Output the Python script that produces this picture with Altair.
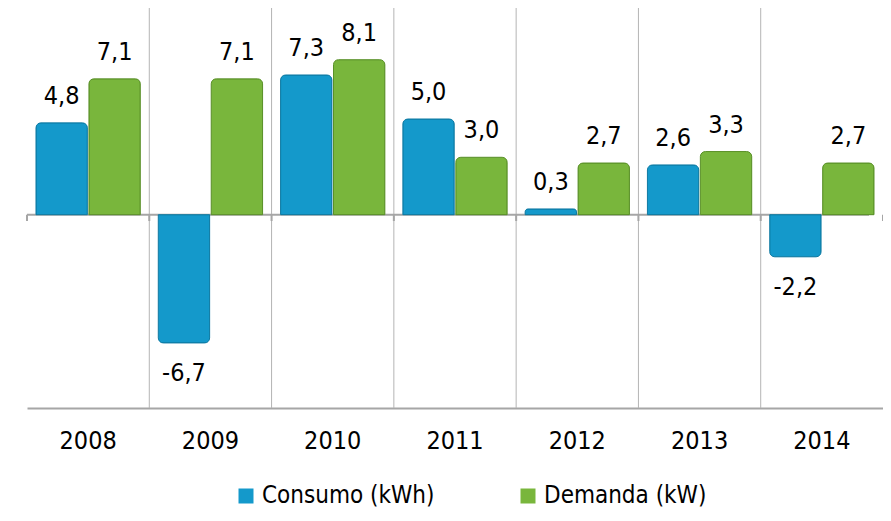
import altair as alt
import pandas as pd

years = ["2008", "2009", "2010", "2011", "2012", "2013", "2014"]
consumo = [4.8, -6.7, 7.3, 5.0, 0.3, 2.6, -2.2]
demanda = [7.1, 7.1, 8.1, 3.0, 2.7, 3.3, 2.7]
series = ["Consumo (kWh)", "Demanda (kW)"]
colors = ["#1499cb", "#79b63c"]
strokes = ["#0d7aa3", "#5a9128"]

Y_MIN, Y_MAX = -10.1, 10.8
FONT = "DejaVu Sans Condensed, Noto Sans, sans-serif"
FS = 25
GRAY = "#a6a6a6"

rows = []
for i, yr in enumerate(years):
    rows.append({"year": yr, "serie": series[0], "value": consumo[i]})
    rows.append({"year": yr, "serie": series[1], "value": demanda[i]})
df = pd.DataFrame(rows)
df["label"] = df["value"].map(lambda v: f"{v:.1f}".replace(".", ","))

grid_df = pd.DataFrame({"year": years[1:]})
tick_df = pd.DataFrame({"year": years})
end_df = pd.DataFrame({"year": [years[-1]]})

X_SCALE = alt.Scale(domain=years, paddingInner=0, paddingOuter=0)
Y_SCALE = alt.Scale(domain=[Y_MIN, Y_MAX], nice=False, zero=False)
XO_SCALE = alt.Scale(domain=series, paddingOuter=0.17, paddingInner=0.03)

x_axis = alt.Axis(
    orient="bottom", title=None, labelAngle=0, ticks=False, grid=False,
    domainColor=GRAY, domainWidth=2, labelFont=FONT, labelFontSize=FS,
    labelColor="#000000", labelPadding=20,
)

legend = alt.Legend(
    orient="none", direction="horizontal", title=None, legendX=207, legendY=476,
    symbolType="square", symbolSize=225, symbolStrokeWidth=0,
    labelFont=FONT, labelFontSize=24, labelColor="#000000", labelLimit=500,
    labelOffset=4, columnPadding=81, symbolOpacity=1,
)

color_enc = alt.Color("serie:N", scale=alt.Scale(domain=series, range=colors), legend=legend)
stroke_enc = alt.Stroke("serie:N", scale=alt.Scale(domain=series, range=strokes), legend=None)

base = alt.Chart(df).encode(
    x=alt.X("year:N", scale=X_SCALE, axis=x_axis),
    xOffset=alt.XOffset("serie:N", scale=XO_SCALE),
    y=alt.Y("value:Q", scale=Y_SCALE, axis=None),
)

bars_pos = base.transform_filter("datum.value >= 0").mark_bar(
    cornerRadiusTopLeft=5, cornerRadiusTopRight=5, strokeWidth=1
).encode(color=color_enc, stroke=stroke_enc)

bars_neg = base.transform_filter("datum.value < 0").mark_bar(
    cornerRadiusBottomLeft=5, cornerRadiusBottomRight=5, strokeWidth=1
).encode(color=color_enc, stroke=stroke_enc)

text_pos = base.transform_filter("datum.value >= 0").mark_text(
    baseline="bottom", dy=-14, font=FONT, fontSize=FS, color="#000000"
).encode(text="label:N")

text_neg = base.transform_filter("datum.value < 0").mark_text(
    baseline="top", dy=18, font=FONT, fontSize=FS, color="#000000"
).encode(text="label:N")

grid = alt.Chart(grid_df).mark_rule(color="#b4b4b4", strokeWidth=1).encode(
    x=alt.X("year:N", scale=X_SCALE, bandPosition=0, axis=x_axis),
)

zero_line = alt.Chart(end_df).mark_rule(color=GRAY, strokeWidth=2, xOffset=-14).encode(
    y=alt.datum(0, axis=None),
)

ticks = alt.Chart(tick_df).mark_rule(color=GRAY, strokeWidth=2).encode(
    x=alt.X("year:N", scale=X_SCALE, bandPosition=0, axis=x_axis),
    y=alt.datum(0, axis=None),
    y2=alt.datum(-0.33),
)
end_tick = alt.Chart(end_df).mark_rule(color=GRAY, strokeWidth=2).encode(
    x=alt.X("year:N", scale=X_SCALE, bandPosition=1, axis=x_axis),
    y=alt.datum(0, axis=None),
    y2=alt.datum(-0.33),
)

chart = alt.layer(
    grid, zero_line, bars_pos, bars_neg, ticks, end_tick, text_pos, text_neg
).properties(
    width=856, height=400,
    autosize=alt.AutoSizeParams(type="none"),
    padding={"left": 19, "top": 0, "right": 0, "bottom": 105},
).configure_view(stroke=None)

chart.save("out.html", embed_options={"renderer": "svg", "actions": False})
